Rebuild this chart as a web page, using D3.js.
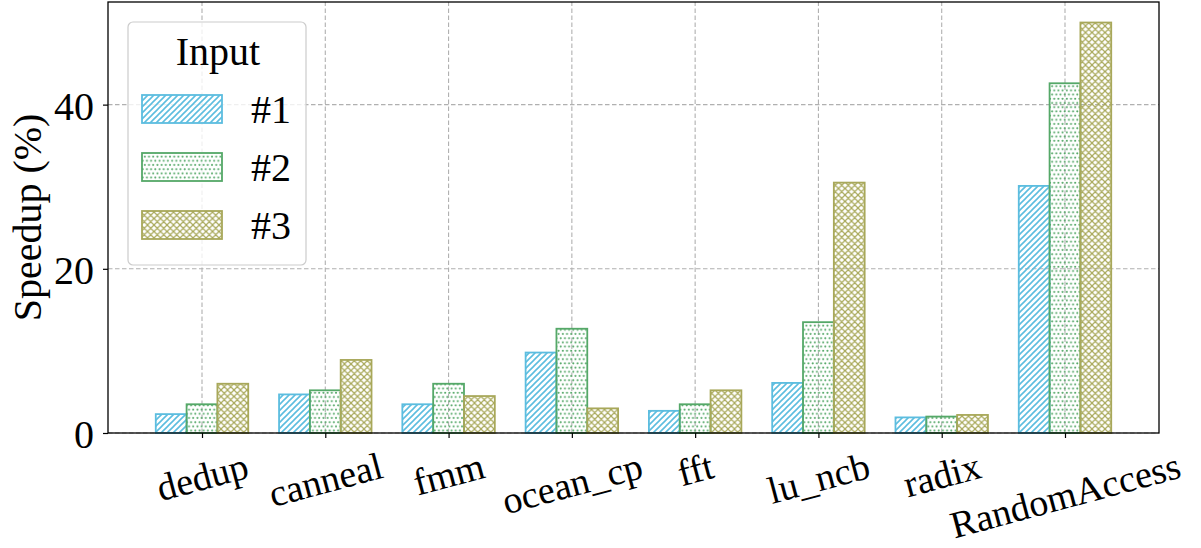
<!DOCTYPE html>
<html>
<head>
<meta charset="utf-8">
<title>Speedup per input</title>
<script src="https://cdn.jsdelivr.net/npm/d3@7"></script>
<style>
  body { margin: 0; background: #fff; }
  text { font-family: 'Liberation Serif', 'Times New Roman', serif; fill: #000; }
  .grid line { stroke: #b0b0b0; stroke-dasharray: 4.5 2.5; stroke-width: 1.1; }
</style>
</head>
<body>
<div id="chart"></div>
<script>
// ---- data ----
const benchmarks = ["dedup", "canneal", "fmm", "ocean_cp", "fft", "lu_ncb", "radix", "RandomAccess"];
const series = ["#1", "#2", "#3"];
const input1 = [2.3, 4.7, 3.5, 9.8, 2.7, 6.1, 1.9, 30.1];
const input2 = [3.5, 5.2, 6.0, 12.7, 3.5, 13.5, 2.0, 42.6];
const input3 = [6.0, 8.9, 4.5, 3.0, 5.2, 30.5, 2.2, 50.0];
const yTicks = [0, 20, 40];
const colors = ["#5cbddf", "#55a868", "#a8a85a"];

const values = [input1, input2, input3];

// ---- layout ----
const width = 1201, height = 548;
const margin = { top: 2, right: 42, bottom: 115, left: 108 };
const fontSize = 40;
const xFontSize = 38;

const svg = d3.select("#chart").append("svg")
    .attr("width", width)
    .attr("height", height);

// hatch patterns
const defs = svg.append("defs");
const p1 = defs.append("pattern").attr("id", "hatch0")
    .attr("patternUnits", "userSpaceOnUse").attr("width", 6).attr("height", 6);
p1.append("path").attr("d", "M-1.5,1.5 l3,-3 M0,6 l6,-6 M4.5,7.5 l3,-3")
    .attr("stroke", colors[0]).attr("stroke-width", 1.6);

const p2 = defs.append("pattern").attr("id", "hatch1")
    .attr("patternUnits", "userSpaceOnUse").attr("width", 8.4).attr("height", 8.4);
[[2.1, 2.1], [6.3, 2.1], [0, 6.3], [4.2, 6.3], [8.4, 6.3]].forEach(([cx, cy]) =>
  p2.append("circle").attr("cx", cx).attr("cy", cy).attr("r", 1.05).attr("fill", colors[1]));

const p3 = defs.append("pattern").attr("id", "hatch2")
    .attr("patternUnits", "userSpaceOnUse").attr("width", 6.5).attr("height", 6.5);
p3.append("path").attr("d", "M0,0 L6.5,6.5 M0,6.5 L6.5,0 M-1.5,1.5 l3,-3 M5,8 l3,-3 M-1.5,5 l3,3 M5,-1.5 l3,3")
    .attr("stroke", colors[2]).attr("stroke-width", 1.25);

// ---- scales ----
const x = d3.scaleLinear()
    .domain([-0.7625, benchmarks.length - 1 + 0.7625])
    .range([margin.left, width - margin.right]);
const xs = d3.scaleBand().domain(series).range([-0.375, 0.375]);
const y = d3.scaleLinear()
    .domain([0, 52.5])
    .range([height - margin.bottom, margin.top]);

// ---- grid ----
const grid = svg.append("g").attr("class", "grid");
grid.selectAll(".gx").data(benchmarks).enter().append("line")
    .attr("x1", (d, i) => x(i)).attr("x2", (d, i) => x(i))
    .attr("y1", y.range()[0]).attr("y2", y.range()[1]);
grid.selectAll(".gy").data(yTicks).enter().append("line")
    .attr("x1", x.range()[0]).attr("x2", x.range()[1])
    .attr("y1", d => y(d)).attr("y2", d => y(d));

// ---- bars ----
series.forEach((s, si) => {
  svg.append("g").selectAll("rect")
    .data(values[si])
    .enter().append("rect")
    .attr("x", (d, i) => x(i + xs(s)))
    .attr("width", x(xs.bandwidth()) - x(0))
    .attr("y", d => y(d))
    .attr("height", d => y(0) - y(d))
    .attr("fill", `url(#hatch${si})`)
    .attr("stroke", colors[si])
    .attr("stroke-width", 1.8);
});

// ---- frame ----
svg.append("rect")
    .attr("x", x.range()[0]).attr("y", y.range()[1])
    .attr("width", x.range()[1] - x.range()[0])
    .attr("height", y.range()[0] - y.range()[1])
    .attr("fill", "none").attr("stroke", "#000").attr("stroke-width", 1.3);

// ---- axes ----
const yAxis = svg.append("g")
    .attr("transform", `translate(${x.range()[0]},0)`)
    .call(d3.axisLeft(y).tickValues(yTicks).tickSize(5).tickPadding(9));
yAxis.select(".domain").remove();
yAxis.selectAll("text").style("font-size", fontSize + "px")
    .style("font-family", "'Liberation Serif', serif").attr("dy", "0.36em");

const xAxis = svg.append("g")
    .attr("transform", `translate(0,${y.range()[0]})`)
    .call(d3.axisBottom(x).tickValues(d3.range(benchmarks.length))
          .tickFormat(i => benchmarks[i]).tickSize(5));
xAxis.select(".domain").remove();
const sin = Math.sin(15 * Math.PI / 180), cos = Math.cos(15 * Math.PI / 180);
xAxis.selectAll(".tick text")
    .style("font-size", xFontSize + "px")
    .style("font-family", "'Liberation Serif', serif")
    .attr("y", 0).attr("dy", "0.32em")
    .attr("text-anchor", "middle")
    .attr("transform", function () {
      const L = this.getComputedTextLength();
      const cy = 16 + L / 2 * sin + 0.45 * xFontSize * cos;
      return `translate(0,${cy}) rotate(-15)`;
    });
svg.selectAll(".tick line").attr("stroke", "#000").attr("stroke-width", 1.2);

// y label
svg.append("text")
    .attr("transform", `translate(41,${(y.range()[0] + y.range()[1]) / 2}) rotate(-90)`)
    .attr("text-anchor", "middle")
    .style("font-size", fontSize + "px")
    .text("Speedup (%)");

// ---- legend ----
const legend = svg.append("g").attr("transform", "translate(128,22)");
legend.append("rect")
    .attr("width", 178).attr("height", 243).attr("rx", 5)
    .attr("fill", "#fff").attr("fill-opacity", 0.8)
    .attr("stroke", "#cccccc").attr("stroke-width", 1.2);
legend.append("text")
    .attr("x", 90).attr("y", 43)
    .attr("text-anchor", "middle")
    .style("font-size", fontSize + "px")
    .text("Input");
series.forEach((s, si) => {
  const row = legend.append("g").attr("transform", `translate(0,${87 + si * 58})`);
  row.append("rect")
    .attr("x", 14).attr("y", -14).attr("width", 80).attr("height", 28)
    .attr("fill", `url(#hatch${si})`)
    .attr("stroke", colors[si]).attr("stroke-width", 1.8);
  row.append("text")
    .attr("x", 123).attr("y", 0).attr("dy", "0.34em")
    .style("font-size", fontSize + "px")
    .text(s);
});
</script>
</body>
</html>
